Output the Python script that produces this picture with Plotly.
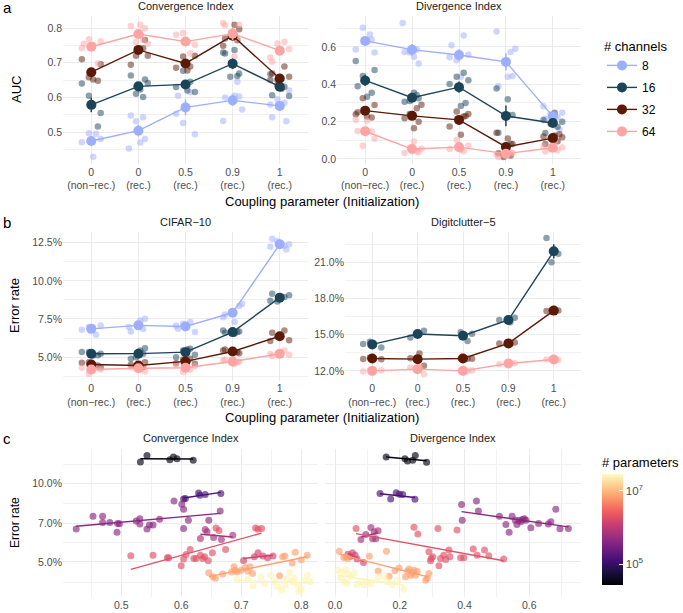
import numpy as np
import plotly.graph_objects as go
from plotly.colors import sample_colorscale

W, H = 683, 613
FONT = "Liberation Sans"

# ---------------- data ----------------
COUPLING_LABELS = ["0<br>(non−rec.)", "0<br>(rec.)", "0.5<br>(rec.)", "0.9<br>(rec.)", "1<br>(rec.)"]
CHANNELS = ["8", "16", "32", "64"]
CH_COLORS = {"8": "#9DAEFF", "16": "#1C4459", "32": "#5B1A07", "64": "#FFA3A3"}

# Row a: Convergence index (AUC), one list of seeds per coupling category
CONV_8 = [[0.495, 0.497, 0.48, 0.471, 0.429], [0.453, 0.47, 0.48, 0.548, 0.543, 0.531],
          [0.605, 0.615, 0.526, 0.494, 0.553, 0.635], [0.565, 0.532, 0.605, 0.603, 0.6, 0.645],
          [0.531, 0.543, 0.585, 0.595, 0.62, 0.58]]
CONV_16 = [[0.605, 0.555, 0.64, 0.577, 0.516], [0.623, 0.652, 0.663, 0.601, 0.611, 0.642],
           [0.645, 0.677, 0.616, 0.63, 0.62], [0.73, 0.737, 0.669, 0.727, 0.662, 0.66],
           [0.606, 0.631, 0.65, 0.604, 0.667, 0.628]]
CONV_32 = [[0.658, 0.696, 0.71, 0.652, 0.648], [0.781, 0.766, 0.694, 0.742, 0.72, 0.72],
           [0.689, 0.718, 0.72, 0.686, 0.678], [0.749, 0.81, 0.797, 0.77, 0.765],
           [0.669, 0.689, 0.635, 0.66, 0.65, 0.625]]
CONV_64 = [[0.768, 0.762, 0.742, 0.752, 0.698, 0.755], [0.81, 0.8, 0.806, 0.766, 0.76, 0.755],
           [0.727, 0.786, 0.752, 0.781, 0.76], [0.815, 0.718, 0.81, 0.808, 0.77],
           [0.703, 0.761, 0.756, 0.74, 0.715]]

# Row a: Divergence index (AUC)
DIV_8 = [[0.667, 0.703, 0.57, 0.586, 0.63, 0.64], [0.728, 0.547, 0.511, 0.573, 0.586, 0.57],
         [0.609, 0.662, 0.529, 0.559, 0.545, 0.44], [0.591, 0.683, 0.44, 0.444, 0.39, 0.573],
         [0.158, 0.216, 0.224, 0.24, 0.248, 0.283]]
DIV_16 = [[0.444, 0.476, 0.525, 0.334, 0.355, 0.39], [0.355, 0.325, 0.307, 0.343, 0.31],
          [0.462, 0.44, 0.422, 0.401, 0.284, 0.3], [0.378, 0.32, 0.236, 0.14, 0.08],
          [0.139, 0.172, 0.189, 0.199, 0.209, 0.247]]
DIV_32 = [[0.325, 0.289, 0.24, 0.227, 0.222, 0.25], [0.165, 0.2, 0.218, 0.272, 0.241, 0.29],
          [0.227, 0.254, 0.241, 0.174, 0.13, 0.23], [0.14, 0.11, 0.08, 0.03, 0.018, 0.01],
          [0.08, 0.095, 0.111, 0.116, 0.121, 0.126, 0.133]]
DIV_64 = [[0.071, 0.108, 0.21, 0.205, 0.147, 0.15], [0.094, 0.036, 0.032, 0.041, 0.06, 0.055],
          [0.041, 0.103, 0.071, 0.053, 0.05], [0.023, 0.041, 0.032, 0.011, 0.035],
          [0.04, 0.047, 0.054, 0.062, 0.068, 0.088]]

# Row b: error rate (%) CIFAR-10
CIFAR_8 = [[6.47, 6.97, 7.08, 6.8, 6.95], [6.97, 7.4, 7.51, 6.68, 6.85], [6.86, 7.3, 7.19, 6.64, 7.05],
           [8.5, 7.62, 7.3, 8.35, 7.8], [12.06, 12.76, 12.3, 12.6, 12.4, 12.24]]
CIFAR_16 = [[5.33, 5.22, 5.33, 5.1, 5.12], [5.44, 5.59, 4.89, 5.22, 5.0], [5.55, 5.44, 5.15, 5.0, 5.5],
            [6.75, 6.53, 6.68, 6.6, 6.64], [9.15, 8.94, 8.65, 9.05, 8.7]]
CIFAR_32 = [[4.67, 4.34, 4.63, 4.5, 4.45], [4.34, 4.67, 4.5, 4.35, 4.39], [4.89, 4.85, 4.56, 4.6, 4.7],
            [5.44, 5.33, 5.26, 5.5, 5.32], [6.6, 6.75, 6.35, 6.1, 6.05]]
CIFAR_64 = [[3.91, 4.19, 4.3, 4.25, 4.3], [4.23, 4.06, 4.34, 4.4, 4.35], [4.19, 4.02, 4.4, 4.5, 4.4],
            [4.78, 4.56, 4.7, 4.85, 4.7], [5.07, 5.44, 5.22, 5.15, 5.2]]

# Row b: error rate (%) Digitclutter-5 (no 8-channel models)
DIGIT_16 = [[14.41, 13.94, 14.22], [15.05, 15.32, 14.77], [14.47, 15.19, 15.07],
            [16.21, 16.02, 16.4], [23.0, 21.7, 21.0]]
DIGIT_32 = [[13.11, 12.97, 12.98], [13.44, 12.42, 13.05], [13.0, 13.05, 13.01],
            [14.27, 14.2, 14.35], [16.96, 17.0, 17.01]]
DIGIT_64 = [[12.0, 12.05, 11.95], [12.42, 11.72, 12.28], [12.0, 11.98, 12.02],
            [12.55, 12.65, 12.63], [12.94, 12.9, 12.98]]

# Row c: model groups, log10(# parameters), (index, error rate %) pairs
C_LOGPARAMS = [4.5, 5.15, 5.62, 5.85, 6.3, 6.15, 6.85, 7.4]
C_PARAM_MIN, C_PARAM_MAX = 4.43, 7.46

CONV_G1 = [(0.532, 12.06), (0.543, 12.76), (0.581, 12.3), (0.587, 12.6), (0.593, 12.4), (0.62, 12.24)]
CONV_G2 = [(0.604, 8.7), (0.607, 8.74), (0.629, 9.18), (0.631, 9.0), (0.64, 9.05), (0.666, 9.13)]
CONV_G3 = [(0.425, 6.68), (0.453, 7.48), (0.469, 7.48), (0.469, 7.08), (0.481, 7.08), (0.494, 7.02),
           (0.493, 6.5), (0.497, 7.0), (0.525, 7.18), (0.531, 7.32), (0.531, 6.98), (0.543, 6.68),
           (0.547, 6.92), (0.553, 6.92), (0.564, 7.28), (0.588, 8.56), (0.601, 8.32), (0.604, 7.96),
           (0.604, 6.72), (0.612, 7.22), (0.646, 7.22), (0.665, 7.84)]
CONV_G4 = [(0.632, 6.15), (0.64, 6.66), (0.643, 6.52), (0.654, 6.2), (0.667, 6.1), (0.686, 6.33)]
CONV_G5 = [(0.516, 5.28), (0.553, 5.31), (0.577, 5.19), (0.579, 5.19), (0.6, 4.84), (0.604, 5.13),
           (0.608, 5.34), (0.615, 5.58), (0.621, 5.16), (0.625, 5.16), (0.632, 5.31), (0.636, 5.16),
           (0.639, 5.24), (0.645, 5.05), (0.652, 5.42), (0.674, 5.58), (0.658, 6.75), (0.663, 6.6),
           (0.724, 6.75), (0.728, 6.67), (0.734, 6.72)]
CONV_G6 = [(0.704, 5.06), (0.722, 5.24), (0.728, 5.42), (0.736, 5.27), (0.744, 5.19), (0.753, 5.27)]
CONV_G7 = [(0.646, 4.55), (0.653, 4.39), (0.657, 4.33), (0.669, 4.5), (0.684, 4.58), (0.688, 4.79),
           (0.69, 4.65), (0.693, 4.58), (0.70, 4.65), (0.707, 4.76), (0.711, 4.62), (0.715, 4.79),
           (0.719, 4.52), (0.764, 4.43), (0.769, 5.24), (0.773, 5.27), (0.79, 5.45), (0.80, 5.1),
           (0.81, 5.3), (0.785, 4.95)]
CONV_G8 = [(0.693, 4.29), (0.711, 4.29), (0.72, 4.05), (0.733, 4.39), (0.739, 4.14), (0.749, 4.45),
           (0.756, 4.2), (0.761, 4.02), (0.767, 3.9), (0.773, 4.08), (0.781, 4.55), (0.786, 4.2),
           (0.789, 4.33), (0.794, 4.08), (0.80, 3.92), (0.805, 4.25), (0.81, 4.45), (0.796, 3.85),
           (0.777, 4.3), (0.815, 4.2)]

DIV_G1 = [(0.158, 12.6), (0.216, 12.42), (0.224, 12.17), (0.24, 12.24), (0.248, 12.76), (0.283, 12.03)]
DIV_G2 = [(0.139, 9.13), (0.172, 8.7), (0.189, 9.2), (0.199, 9.07), (0.209, 9.05), (0.247, 8.68)]
DIV_G3 = [(0.391, 8.3), (0.393, 7.22), (0.437, 8.56), (0.443, 7.84), (0.508, 7.48), (0.528, 6.96),
          (0.547, 7.48), (0.557, 7.22), (0.562, 6.96), (0.569, 7.22), (0.574, 7.12), (0.579, 7.26),
          (0.585, 7.32), (0.59, 7.22), (0.605, 6.76), (0.538, 6.5), (0.629, 7.02), (0.659, 6.98),
          (0.667, 7.12), (0.682, 7.96), (0.695, 6.7), (0.721, 6.72)]
DIV_G4 = [(0.08, 6.1), (0.095, 6.37), (0.111, 6.78), (0.116, 6.13), (0.121, 6.52), (0.126, 6.13),
          (0.133, 6.58)]
DIV_G5 = [(0.065, 6.72), (0.244, 6.79), (0.256, 6.39), (0.318, 6.72), (0.377, 6.62), (0.29, 5.47),
          (0.297, 5.16), (0.302, 5.24), (0.321, 4.84), (0.326, 5.16), (0.336, 5.31), (0.342, 5.11),
          (0.352, 5.55), (0.355, 5.24), (0.388, 5.19), (0.398, 5.19), (0.427, 5.6), (0.439, 5.31),
          (0.462, 5.55), (0.475, 5.28), (0.521, 5.13), (0.295, 5.05)]
DIV_G6 = [(0.04, 5.35), (0.047, 5.25), (0.054, 5.42), (0.062, 5.3), (0.068, 5.13), (0.088, 4.98)]
DIV_G7 = [(0.013, 5.5), (0.027, 5.2), (0.034, 5.24), (0.039, 5.16), (0.106, 5.26), (0.159, 5.5),
          (0.133, 4.62), (0.167, 4.41), (0.185, 4.63), (0.218, 4.39), (0.224, 4.62), (0.229, 4.7),
          (0.234, 4.45), (0.239, 4.56), (0.244, 4.65), (0.249, 4.45), (0.254, 4.6), (0.28, 4.26),
          (0.29, 4.52), (0.285, 4.33), (0.198, 4.74)]
DIV_G8 = [(0.008, 4.65), (0.021, 4.58), (0.034, 4.68), (0.039, 4.52), (0.029, 4.2), (0.037, 4.14),
          (0.049, 4.39), (0.059, 4.52), (0.068, 4.1), (0.08, 4.2), (0.09, 4.08), (0.1, 4.2),
          (0.111, 4.14), (0.133, 4.39), (0.152, 4.41), (0.162, 4.2), (0.177, 4.1), (0.193, 4.26),
          (0.213, 3.93), (0.018, 4.33)]

CONV_GROUPS = [CONV_G1, CONV_G2, CONV_G3, CONV_G4, CONV_G5, CONV_G6, CONV_G7, CONV_G8]
DIV_GROUPS = [DIV_G1, DIV_G2, DIV_G3, DIV_G4, DIV_G5, DIV_G6, DIV_G7, DIV_G8]

# ---------------- style ----------------
JIT = [-0.16, 0.1, -0.05, 0.2, -0.2, 0.04, 0.14]
GRID = "#EBEBEB"
MINOR_GRID = "#F1F1F1"
TICK_COLOR = "#4D4D4D"
TICK_FONT = dict(family=FONT, size=10.5, color=TICK_COLOR)


def px_x(p):
    return p / W


def px_y(p):
    return 1 - p / H


fig = go.Figure()


def cat_panel(xa, ya, series, showlegend):
    # jittered seeds
    for ch, vals in series:
        xs, ys = [], []
        for i, cat in enumerate(vals):
            for j, v in enumerate(cat):
                xs.append(i + JIT[(j + 3 * i + len(ch)) % len(JIT)])
                ys.append(v)
        fig.add_trace(go.Scatter(x=xs, y=ys, mode="markers", xaxis=xa, yaxis=ya,
                                 marker=dict(color=CH_COLORS[ch], size=6.5, opacity=0.5, line=dict(width=0)),
                                 showlegend=False, hoverinfo="skip"))
    # means with standard errors
    for ch, vals in series:
        means = [float(np.mean(c)) for c in vals]
        ses = [float(np.std(c, ddof=1) / np.sqrt(len(c))) for c in vals]
        fig.add_trace(go.Scatter(x=list(range(len(vals))), y=means, mode="lines+markers",
                                 xaxis=xa, yaxis=ya, name=ch, legendgroup=ch,
                                 line=dict(color=CH_COLORS[ch], width=1.4),
                                 marker=dict(color=CH_COLORS[ch], size=10),
                                 error_y=dict(type="data", array=ses, thickness=1.5, width=0,
                                              color=CH_COLORS[ch]),
                                 showlegend=showlegend, hoverinfo="skip"))


cat_panel("x", "y", [("8", CONV_8), ("16", CONV_16), ("32", CONV_32), ("64", CONV_64)], True)
cat_panel("x2", "y2", [("8", DIV_8), ("16", DIV_16), ("32", DIV_32), ("64", DIV_64)], False)
cat_panel("x3", "y3", [("8", CIFAR_8), ("16", CIFAR_16), ("32", CIFAR_32), ("64", CIFAR_64)], False)
cat_panel("x4", "y4", [("16", DIGIT_16), ("32", DIGIT_32), ("64", DIGIT_64)], False)


def frac(lp):
    return (lp - C_PARAM_MIN) / (C_PARAM_MAX - C_PARAM_MIN)


def scatter_panel(xa, ya, groups, showscale):
    xs, ys, cs = [], [], []
    for lp, pts in zip(C_LOGPARAMS, groups):
        for x, y in pts:
            xs.append(x)
            ys.append(y)
            cs.append(lp)
    marker = dict(color=cs, colorscale="Magma", cmin=C_PARAM_MIN, cmax=C_PARAM_MAX, size=7,
                  opacity=0.65, line=dict(width=0), showscale=showscale)
    if showscale:
        marker["colorbar"] = dict(
            title=dict(text="# parameters", side="top", font=dict(family=FONT, size=13, color="#000")),
            x=px_x(602), xanchor="left", y=px_y(585), yanchor="bottom",
            len=131 / H, lenmode="fraction", thickness=21, thicknessmode="pixels",
            outlinewidth=0, tickvals=[5, 7], ticktext=["10<sup>5</sup>", "10<sup>7</sup>"],
            ticks="inside", tickcolor="white", ticklen=4, tickwidth=1,
            tickfont=dict(family=FONT, size=11.5, color=TICK_COLOR), xpad=0, ypad=0)
    fig.add_trace(go.Scatter(x=xs, y=ys, mode="markers", xaxis=xa, yaxis=ya, marker=marker,
                             showlegend=False, hoverinfo="skip"))
    for lp, pts in zip(C_LOGPARAMS, groups):
        gx = np.array([p[0] for p in pts])
        gy = np.log10([p[1] for p in pts])
        a, b = np.polyfit(gx, gy, 1)
        lx = np.array([gx.min(), gx.max()])
        col = sample_colorscale("Magma", [frac(lp)])[0]
        fig.add_trace(go.Scatter(x=lx, y=10 ** (a * lx + b), mode="lines", xaxis=xa, yaxis=ya,
                                 line=dict(color=col, width=1.4), showlegend=False, hoverinfo="skip"))


scatter_panel("x5", "y5", CONV_GROUPS, True)
scatter_panel("x6", "y6", DIV_GROUPS, False)

# ---------------- axes ----------------
def cat_x(dom):
    return dict(domain=dom, range=[-0.6, 4.6], tickvals=list(range(5)), ticktext=COUPLING_LABELS,
                showgrid=True, gridcolor=GRID, gridwidth=1, zeroline=False, showline=False,
                ticks="", tickfont=TICK_FONT, fixedrange=True)


def num_axis(dom, rng, tv, tt, minor_vals, **kw):
    d = dict(domain=dom, range=rng, tickvals=tv, ticktext=tt, showgrid=True, gridcolor=GRID,
             gridwidth=1, zeroline=False, showline=False, ticks="", tickfont=TICK_FONT,
             minor=dict(tickvals=minor_vals, showgrid=True, gridcolor=MINOR_GRID, gridwidth=0.8,
                        ticks=""))
    d.update(kw)
    return d


ROW_A = [px_y(164), px_y(16)]
ROW_B = [px_y(380.5), px_y(232)]
ROW_C = [px_y(597), px_y(449)]

fig.update_layout(
    width=W, height=H, margin=dict(l=0, r=0, t=0, b=0),
    paper_bgcolor="white", plot_bgcolor="white",
    font=dict(family=FONT, color="#000"),
    xaxis=dict(cat_x([px_x(63), px_x(308)]), anchor="y"),
    yaxis=num_axis(ROW_A, [0.408, 0.835], [0.5, 0.6, 0.7, 0.8], ["0.5", "0.6", "0.7", "0.8"],
                   [0.45, 0.55, 0.65, 0.75], anchor="x"),
    xaxis2=dict(cat_x([px_x(337), px_x(581)]), anchor="y2"),
    yaxis2=num_axis(ROW_A, [-0.027, 0.766], [0, 0.2, 0.4, 0.6], ["0.0", "0.2", "0.4", "0.6"],
                    [0.1, 0.3, 0.5, 0.7], anchor="x2"),
    xaxis3=dict(cat_x([px_x(63), px_x(308)]), anchor="y3"),
    yaxis3=num_axis(ROW_B, [3.47, 13.2], [5, 7.5, 10, 12.5], ["5.0%", "7.5%", "10.0%", "12.5%"],
                    [3.75, 6.25, 8.75, 11.25], anchor="x3"),
    xaxis4=dict(cat_x([px_x(345), px_x(581)]), anchor="y4"),
    yaxis4=num_axis(ROW_B, [11.2, 23.5], [12, 15, 18, 21], ["12.0%", "15.0%", "18.0%", "21.0%"],
                    [13.5, 16.5, 19.5, 22.5], anchor="x4"),
    xaxis5=num_axis([px_x(63), px_x(318)], [0.403, 0.828], [0.5, 0.6, 0.7, 0.8],
                    ["0.5", "0.6", "0.7", "0.8"], [0.45, 0.55, 0.65, 0.75], anchor="y5"),
    yaxis5=num_axis(ROW_C, [0.565, 1.131], [5, 7, 10], ["5.0%", "7.0%", "10.0%"],
                    [4.18, 5.92, 8.37, 11.83], anchor="x5", type="log"),
    xaxis6=num_axis([px_x(325), px_x(581)], [-0.031, 0.76], [0, 0.2, 0.4, 0.6],
                    ["0.0", "0.2", "0.4", "0.6"], [0.1, 0.3, 0.5, 0.7], anchor="y6"),
    yaxis6=num_axis(ROW_C, [0.565, 1.131], [5, 7, 10], ["5.0%", "7.0%", "10.0%"],
                    [4.18, 5.92, 8.37, 11.83], anchor="x6", type="log", showticklabels=False),
    legend=dict(x=px_x(602), y=px_y(34), xanchor="left", yanchor="top",
                title=dict(text="# channels", font=dict(family=FONT, size=13, color="#000")),
                font=dict(family=FONT, size=12, color="#000"), bgcolor="rgba(0,0,0,0)",
                tracegroupgap=3, itemwidth=30),
)

# ---------------- text ----------------
def ann(text, x, y, size, color="#000", angle=0, xanchor="center"):
    fig.add_annotation(text=text, x=px_x(x), y=px_y(y), xref="paper", yref="paper",
                       showarrow=False, xanchor=xanchor, yanchor="middle", textangle=angle,
                       font=dict(family=FONT, size=size, color=color))


STRIP = "#1A1A1A"
ann("a", 1, 7, 15, xanchor="left")
ann("b", 1, 223, 15, xanchor="left")
ann("c", 1, 438, 15, xanchor="left")
ann("Convergence Index", 185.5, 6, 11, STRIP)
ann("Divergence Index", 459, 6, 11, STRIP)
ann("CIFAR−10", 185.5, 222, 11, STRIP)
ann("Digitclutter−5", 463, 222, 11, STRIP)
ann("Convergence Index", 190.5, 438, 11, STRIP)
ann("Divergence Index", 453, 438, 11, STRIP)
ann("AUC", 16, 90, 13, angle=-90)
ann("Error rate", 15, 306, 13, angle=-90)
ann("Error rate", 15, 523, 12, angle=-90)
ann("Coupling parameter (Initialization)", 322, 201, 13)
ann("Coupling parameter (Initialization)", 322, 417, 13)

fig.write_html("out.html")
